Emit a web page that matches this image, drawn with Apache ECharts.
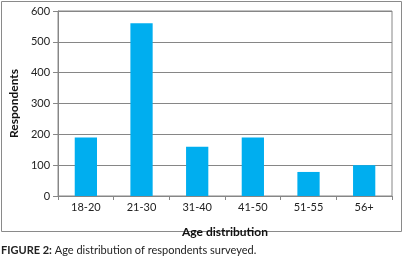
<!DOCTYPE html>
<html>
<head>
<meta charset="utf-8">
<script src="https://cdn.jsdelivr.net/npm/echarts@6/dist/echarts.min.js"></script>
<style>
  html, body { margin: 0; padding: 0; background: #fff; }
  #chart { width: 403px; height: 257px; }
</style>
</head>
<body>
<div id="chart"></div>
<script>
// age groups and number of respondents in each
const ageGroups = ['18-20', '21-30', '31-40', '41-50', '51-55', '56+'];
const respondents = [190, 560, 160, 190, 78, 100];
const yTicks = [0, 100, 200, 300, 400, 500, 600];

var myChart = echarts.init(document.getElementById('chart'));
const font = 'Lato, "Open Sans", sans-serif';
const lineGray = '#868686';

var option = {
  animation: false,
  textStyle: { fontFamily: font },
  grid: {
    left: 51,
    right: 11,
    top: 11,
    bottom: 61,
    show: true,
    borderColor: lineGray,
    borderWidth: 1,
  },
  xAxis: {
    type: 'category',
    data: ageGroups,
    name: 'Age distribution',
    nameLocation: 'center',
    nameGap: 30,
    nameTextStyle: { fontFamily: font, fontSize: 12, fontWeight: 'bold', color: '#111' },
    axisLine: { lineStyle: { color: lineGray } },
    axisTick: { show: true, length: 4, lineStyle: { color: lineGray } },
    axisLabel: { fontFamily: font, fontSize: 11, color: '#222', margin: 6 },
  },
  yAxis: {
    type: 'value',
    min: yTicks[0],
    max: yTicks[yTicks.length - 1],
    interval: 100,
    name: 'Respondents',
    nameLocation: 'center',
    nameGap: 36,
    nameTextStyle: { fontFamily: font, fontSize: 12, fontWeight: 'bold', color: '#111' },
    axisLine: { show: true, lineStyle: { color: lineGray } },
    axisTick: { show: true, length: 5, lineStyle: { color: lineGray } },
    axisLabel: { fontFamily: font, fontSize: 11, color: '#222', margin: 8 },
    splitLine: { lineStyle: { color: lineGray } },
  },
  series: [
    {
      type: 'bar',
      data: respondents,
      barWidth: '40%',
      itemStyle: { color: '#00AEEF' },
    },
  ],
  graphic: [
    {
      type: 'rect',
      shape: { x: 1.5, y: 1.5, width: 400, height: 230 },
      style: { fill: 'none', stroke: '#8a8a8a', lineWidth: 1 },
      silent: true,
    },
    {
      type: 'text',
      left: 1,
      top: 245,
      style: {
        rich: {
          b: { fontFamily: font, fontSize: 11, fontWeight: 'bold', fill: '#222' },
          n: { fontFamily: font, fontSize: 11, fill: '#222' },
        },
        text: '{b|FIGURE 2:}{n| Age distribution of respondents surveyed.}',
      },
    },
  ],
};

myChart.setOption(option);
</script>
</body>
</html>
